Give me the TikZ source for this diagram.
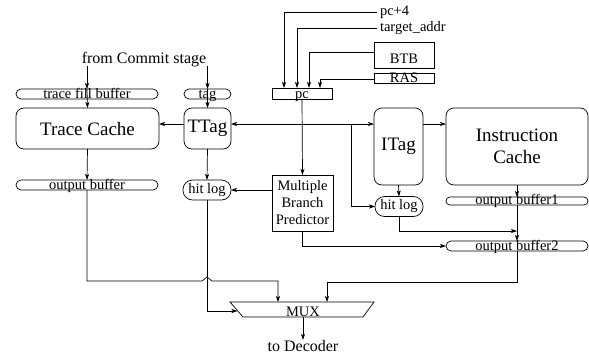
\documentclass[tikz,border=0pt]{standalone}
\usepackage{fontspec}
\setmainfont{Liberation Serif}
\usetikzlibrary{arrows.meta}

\begin{document}
\begin{tikzpicture}[
  x=1pt, y=-1pt,
  line width=0.7pt,
  every node/.style={inner sep=0pt, outer sep=0pt},
  small/.style={font=\fontsize{14.5}{17}\selectfont},
  mid/.style={font=\fontsize{16}{18}\selectfont},
  big/.style={font=\fontsize{19}{22}\selectfont},
  arr/.style={-{Stealth[length=6pt, width=4pt, inset=1.5pt]}},
  buf/.style={draw, rounded corners=5pt, minimum height=10pt},
  unit/.style={draw, rounded corners=8pt, big},
  logbox/.style={draw, rounded corners=9.5pt, small, minimum width=48pt, minimum height=20pt},
  blk/.style={draw, small}
]
\useasboundingbox (0,0) rectangle (589,356);

%% ==== trace cache side ==============================================
\node[mid, anchor=base] (commit) at (144,63) {from Commit stage};

\node[buf, minimum width=142pt] (tfb) at (87,94) {};
\node[small, anchor=base] (tfb-t) at (87,98.5) {trace fill buffer};
\node[buf, minimum width=47pt] (tagbuf) at (207.5,94) {};
\node[small, anchor=base] (tagbuf-t) at (207.5,98.5) {tag};

\node[unit, minimum width=143pt, minimum height=41pt] (tc) at (87.5,128.5) {Trace Cache};
\node[unit, minimum width=47pt, minimum height=41pt] (ttag) at (207.5,128.5) {TTag};

\node[buf, minimum width=142pt] (ob) at (87,185) {};
\node[small, anchor=base] (ob-t) at (87,189.5) {output buffer};
\node[logbox] (thit) at (207,190) {hit log};

\draw[arr] (commit.south -| tfb.north) -- (tfb.north);
\draw[arr] (tfb.north) -- (tc.north);
\draw[arr] (commit.south -| tagbuf.north) -- (tagbuf.north);
\draw[arr] (tagbuf.north) -- (ttag.north);
\draw[arr] (tc.south) -- (ob.north);
\draw[arr] (ttag.south) -- (thit.north);

%% ==== fetch address =================================================
\node[blk, minimum width=60pt, minimum height=11pt] (pc) at (302,93.5) {};
\node[small, anchor=base] (pc-t) at (302,98.5) {pc};
\node[blk, minimum width=60pt, minimum height=26pt] (btb) at (404,55) {};
\node[small, anchor=base] (btb-t) at (404,63) {BTB};
\node[blk, minimum width=60pt, minimum height=10pt] (ras) at (404,78) {};
\node[small, anchor=base] (ras-t) at (404,82.5) {RAS};
\node[small, anchor=west, inner xsep=3pt] (pc4) at (377,12) {pc+4};
\node[small, anchor=west, inner xsep=3pt] (tgt) at (377,28) {target\_addr};

\draw[arr] (pc4.west) -| ([xshift=-18pt]pc.north);
\draw[arr] (tgt.west) -| ([xshift=-5pt]pc.north);
\draw[arr] ([yshift=3pt]btb.west) -| ([xshift=7pt]pc.north);
\draw[arr] ([yshift=-1pt]ras.west) -| ([xshift=18pt]pc.north);

\node[blk, minimum width=61pt, minimum height=56pt, align=center] (mbp) at (302.5,203)
  {Multiple\\Branch\\Predictor};

%% ==== instruction cache side ========================================
\node[unit, minimum width=49pt, minimum height=77pt] (itag) at (398.5,146.5) {ITag};
\node[unit, minimum width=142pt, minimum height=77pt, align=center] (ic) at (517,146.5)
  {Instruction\\Cache};
\node[logbox] (ihit) at (399,206.5) {hit log};
\node[buf, minimum width=142pt, minimum height=8pt, rounded corners=4pt] (ob1) at (517,201) {};
\node[small, anchor=base] (ob1-t) at (517,204.5) {output buffer1};
\node[buf, minimum width=142pt] (ob2) at (517,246) {};
\node[small, anchor=base] (ob2-t) at (517,250.5) {output buffer2};

\coordinate (split) at (302,124);
\coordinate (tap) at (351,124);
\coordinate (join) at (517,231);

\draw[arr] (pc.south) -- (mbp.north);
\draw[arr] (split) -- (ttag.east |- split);
\draw[arr] (ttag.west |- split) -- (tc.east |- split);
\draw[arr] (split) -- (itag.west |- split);
\draw[arr] (itag.east |- split) -- (ic.west |- split);
\draw[arr] (tap) |- (ihit.west);
\draw[arr] (itag.south) -- (ihit.north);
\draw[arr] (ic.south) -- (ob1.north);
\draw[arr] (ob1.south) -- (ob2.north);
\draw[arr] (ihit.south) |- (join);
\draw[arr] (mbp.south) |- (ob2.west);
\draw[arr] (mbp.west |- thit) -- (thit.east);

%% ==== selection =====================================================
\node[minimum width=144pt, minimum height=15pt] (mux) at (302,309.5) {};
\draw (mux.north west) -- (mux.north east) -- ([xshift=-11pt]mux.south east)
  -- ([xshift=13pt]mux.south west) -- cycle;
\node[small, anchor=base] (mux-t) at (303,316.5) {MUX};
\node[mid, anchor=base] (dec) at (303,351) {to Decoder};

\coordinate (hop) at (207,281);
\coordinate (muxin) at (237.5,311);

\draw[arr] (ob.south) |- ([xshift=-5pt]hop) -- ([yshift=4pt]hop) -- ([xshift=5pt]hop)
  -| ([xshift=-24pt]mux.north);
\draw[arr] (thit.south) |- (muxin);
\draw[arr] (ob2.south) -- ++(0,31) -| ([xshift=25pt]mux.north);
\draw[arr] (303,317) -- (dec.north);

\end{tikzpicture}
\end{document}
